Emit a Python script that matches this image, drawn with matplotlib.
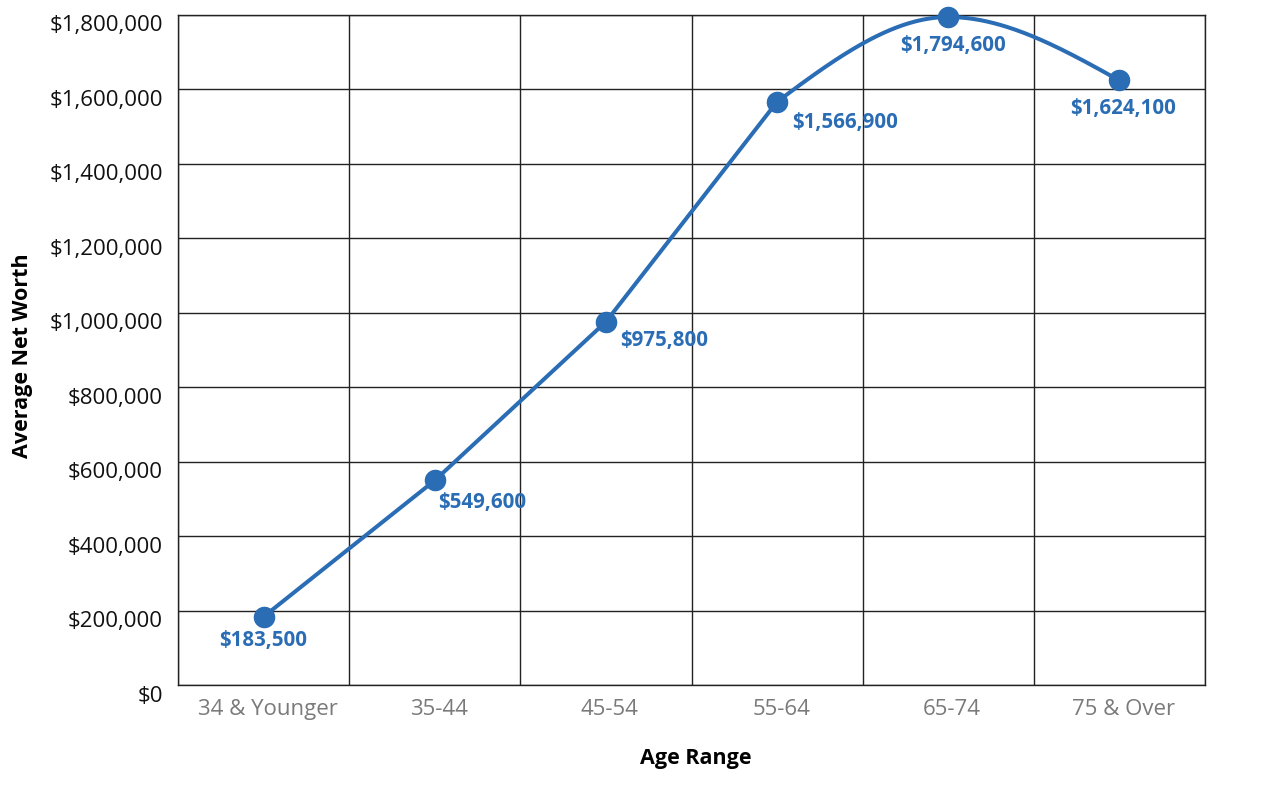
import numpy as np
import matplotlib.pyplot as plt
from matplotlib.ticker import FuncFormatter, MultipleLocator
import matplotlib.transforms as mtransforms

plt.rcParams['font.family'] = ['Open Sans', 'DejaVu Sans']

# data
age_ranges = ['34 & Younger', '35-44', '45-54', '55-64', '65-74', '75 & Over']
net_worth = [183500, 549600, 975800, 1566900, 1794600, 1624100]

blue = '#2a6db5'


def monotone_curve(x, y, steps=80):
    # monotone cubic (d3 style) through the given points
    x = np.asarray(x, float)
    y = np.asarray(y, float)
    n = len(x)
    h = np.diff(x)
    s = np.diff(y) / h
    t = np.zeros(n)
    for i in range(1, n - 1):
        p = (s[i - 1] * h[i] + s[i] * h[i - 1]) / (h[i - 1] + h[i])
        t[i] = (np.sign(s[i - 1]) + np.sign(s[i])) * min(abs(s[i - 1]), abs(s[i]), 0.5 * abs(p))
    t[0] = (3 * s[0] - t[1]) / 2
    t[-1] = (3 * s[-1] - t[-2]) / 2
    xs, ys = [], []
    for i in range(n - 1):
        u = np.linspace(0, 1, steps)
        h00 = 2 * u**3 - 3 * u**2 + 1
        h10 = u**3 - 2 * u**2 + u
        h01 = -2 * u**3 + 3 * u**2
        h11 = u**3 - u**2
        xs.append(x[i] + u * h[i])
        ys.append(h00 * y[i] + h10 * h[i] * t[i] + h01 * y[i + 1] + h11 * h[i] * t[i + 1])
    return np.concatenate(xs), np.concatenate(ys)


fig = plt.figure(figsize=(12.8, 7.86), dpi=100)
ax = fig.add_axes([178 / 1280, 1 - 685 / 786, 1027 / 1280, 670 / 786])
ax.set_xlim(-0.5, 5.5)
ax.set_ylim(0, 1800000)

xpos = np.arange(len(age_ranges))
# straight up to 55-64, rounded over the top after that
ax.plot(xpos[:4], net_worth[:4], color=blue, lw=2.9, solid_capstyle='round',
        solid_joinstyle='round', zorder=3)
cx, cy = monotone_curve(xpos[3:], net_worth[3:])
ax.plot(cx, cy, color=blue, lw=2.9, solid_capstyle='round', zorder=3, clip_on=False)
ax.plot(xpos, net_worth, 'o', color=blue, ms=14.5, zorder=4, clip_on=False)

# label offsets (pixels) and alignment
label_style = [(0, -24, 'center'), (3, -22, 'left'), (14, -19, 'left'),
               (15, -21, 'left'), (5, -28, 'center'), (4, -28, 'center')]
for xi, v, (dx, dy, ha) in zip(xpos, net_worth, label_style):
    ax.annotate('${:,.0f}'.format(v), (xi, v), xytext=(dx, dy),
                textcoords='offset pixels', ha=ha, va='center',
                color=blue, fontsize=14.8, fontweight='bold', zorder=5)

ax.yaxis.set_major_locator(MultipleLocator(200000))
ax.yaxis.set_major_formatter(FuncFormatter(lambda v, p: '${:,.0f}'.format(v)))
ax.set_xticks(xpos)
ax.set_xticklabels(age_ranges, color='#7a7a7a', fontsize=16)
ax.set_xticks(np.arange(-0.5, 6, 1), minor=True)
ax.tick_params(axis='y', labelsize=16, length=0, pad=11, labelcolor='#111111')
ax.tick_params(axis='x', which='both', length=0, pad=10)

# nudge tick labels as in the reference
yoff = mtransforms.ScaledTranslation(0, -8.5 / 100, fig.dpi_scale_trans)
for lab in ax.get_yticklabels():
    lab.set_transform(lab.get_transform() + yoff)
xoff = mtransforms.ScaledTranslation(4 / 100, 0, fig.dpi_scale_trans)
for lab in ax.get_xticklabels():
    lab.set_transform(lab.get_transform() + xoff)

ax.grid(True, axis='y', which='major', color='#222222', lw=1)
ax.grid(True, axis='x', which='minor', color='#222222', lw=1)
ax.set_axisbelow(True)
for sp in ax.spines.values():
    sp.set_color('#222222')
    sp.set_linewidth(1)

ax.set_xlabel('Age Range', fontsize=15.5, fontweight='bold', labelpad=20)
ax.xaxis.label.set_x(0.5 + 4 / 1027)
ax.set_ylabel('Average Net Worth', fontsize=15.5, fontweight='bold', labelpad=12)
ax.yaxis.label.set_y(0.5 - 6 / 670)

fig.savefig('out.png', dpi=100)
